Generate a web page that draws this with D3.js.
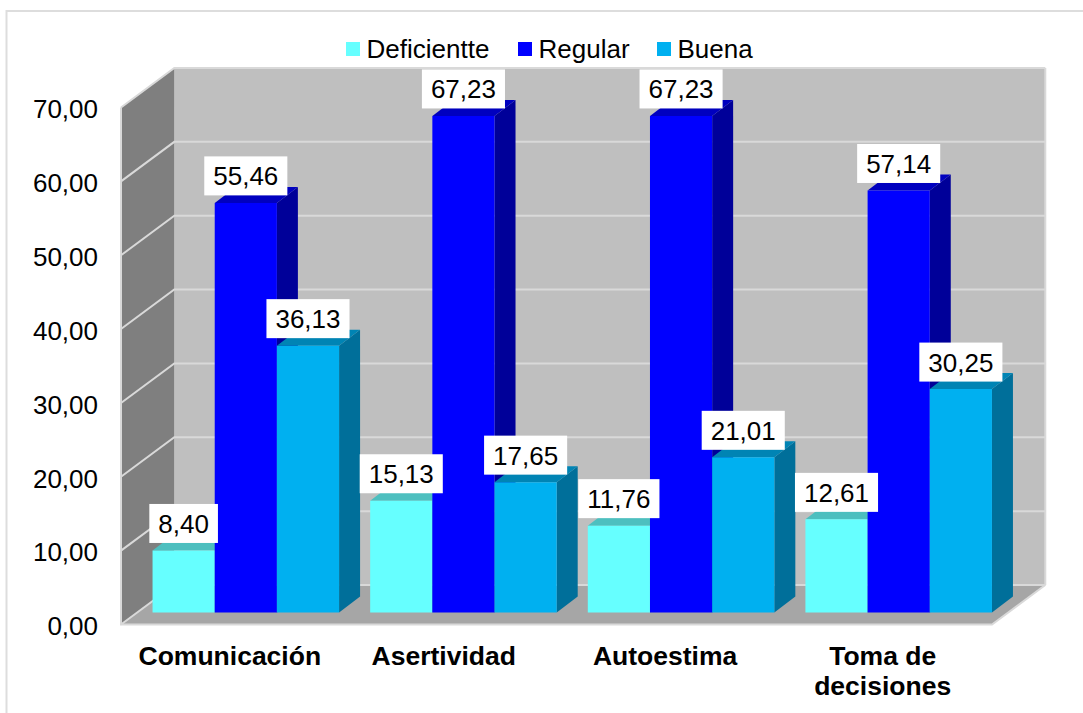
<!DOCTYPE html>
<html><head><meta charset="utf-8">
<script src="https://cdn.jsdelivr.net/npm/d3@7"></script>
<style>html,body{margin:0;padding:0;background:#fff;overflow:hidden}svg{display:block}text{font-family:"Liberation Sans",Arial,sans-serif;fill:#000;white-space:pre}</style>
</head><body><svg id="c" width="1083" height="713"></svg>
<script>
const categories = [["Comunicación"],["Asertividad "],["Autoestima"],["Toma de","decisiones"]];
const seriesNames = ["Deficientte","Regular","Buena"];
const deficiente = [8.40,15.13,11.76,12.61];
const regular = [55.46,67.23,67.23,57.14];
const buena = [36.13,17.65,21.01,30.25];
const seriesValues = [deficiente,regular,buena];
const tickValues = [0,10,20,30,40,50,60,70];
const frontColors = ["#66FFFF","#0000FF","#00B0F0"];
const sideColors = ["#33AAAA","#000099","#006F9A"];
const topColors = ["#4DBFBF","#0000BF","#0084B4"];

const fmt = v => v.toFixed(2).replace(".",",");
const svg = d3.select("#c");
svg.append("rect").attr("x",6.5).attr("y",11).attr("width",1100).attr("height",720)
  .attr("fill","#fff").attr("stroke","#DDDDDD").attr("stroke-width",2);

const y = d3.scaleLinear().domain([0,70]).range([624.5,107.5]);
const depth = {dx:53.3, dy:-39.5};
const inset = {dx:16, dy:-12};
const barDepth = {dx:21, dy:-16};
const x0 = d3.scaleBand().domain(d3.range(4)).range([137,1007.5]).paddingInner(1/7).paddingOuter(1/14);
const x1 = d3.scaleBand().domain(d3.range(3)).range([0,x0.bandwidth()]);
const L = 121, R = 992;
const poly = (pts,fill,g=svg) => g.append("polygon").attr("points",pts.map(p=>p.join(",")).join(" ")).attr("fill",fill);

// walls
const y0=y(0), yT=y(70);
poly([[L+depth.dx,y0+depth.dy],[R+depth.dx,y0+depth.dy],[R+depth.dx,yT+depth.dy],[L+depth.dx,yT+depth.dy]],"#BFBFBF");
poly([[L,y0],[L+depth.dx,y0+depth.dy],[L+depth.dx,yT+depth.dy],[L,yT]],"#7F7F7F");
poly([[L,y0],[R,y0],[R+depth.dx,y0+depth.dy],[L+depth.dx,y0+depth.dy]],"#A6A6A6");

// gridlines and edges
const grid = svg.append("g").attr("fill","none").attr("stroke","#D9D9D9").attr("stroke-width",2);
tickValues.forEach(t=>{
  const pts = [[L,y(t)],[L+depth.dx,y(t)+depth.dy],[R+depth.dx,y(t)+depth.dy]];
  grid.append("polyline").attr("points",pts.map(p=>p.join(",")).join(" "));
});
grid.append("polyline").attr("points",[[R+depth.dx,yT+depth.dy],[R+depth.dx,y0+depth.dy]].map(p=>p.join(",")).join(" "));
grid.append("polyline").attr("points",[[L,yT],[L,y0],[R,y0],[R+depth.dx,y0+depth.dy]].map(p=>p.join(",")).join(" "));

// y axis
const axisG = svg.append("g").attr("transform",`translate(${L},2)`)
  .call(d3.axisLeft(y).tickValues(tickValues).tickSize(0).tickPadding(23).tickFormat(fmt));
axisG.select(".domain").remove();
axisG.selectAll("text").style("font-size","26px").style("font-family",'"Liberation Sans",Arial,sans-serif').attr("fill","#000");

// bars
const barH = v => y(0)-y(v);
categories.forEach((c,i)=>{
  const g = svg.append("g");
  seriesValues.forEach((vals,s)=>{
    const xa = x0(i)+x1(s), xb = xa+x1.bandwidth();
    const base = y0+inset.dy, top = base-barH(vals[i]);
    poly([[xb,base],[xb+barDepth.dx,base+barDepth.dy],[xb+barDepth.dx,top+barDepth.dy],[xb,top]],sideColors[s],g);
    poly([[xa,top],[xb,top],[xb+barDepth.dx,top+barDepth.dy],[xa+barDepth.dx,top+barDepth.dy]],topColors[s],g);
    poly([[xa,base],[xb,base],[xb,top],[xa,top]],frontColors[s],g);
  });
});

// data labels
categories.forEach((c,i)=>{
  seriesValues.forEach((vals,s)=>{
    const cx = x0(i)+x1(s)+x1.bandwidth()/2;
    const bottom = y0+inset.dy-barH(vals[i])-7.5;
    const t = svg.append("text").attr("x",cx).attr("y",bottom-10).attr("text-anchor","middle")
      .style("font-size","26px").text(fmt(vals[i]));
    const w = t.node().getComputedTextLength()+18;
    svg.insert("rect",()=>t.node()).attr("x",cx-w/2).attr("y",bottom-39).attr("width",w).attr("height",39).attr("fill","#fff");
  });
});

// category labels
categories.forEach((c,i)=>{
  const cx = x0(i)+x0.bandwidth()/2-inset.dx;
  const t = svg.append("text").attr("text-anchor","middle").style("font-size","26.5px").style("font-weight","bold");
  c.forEach((line,k)=>t.append("tspan").attr("x",cx).attr("y",665+k*30).text(line));
});

// legend
const legendX = [346,518,657];
seriesNames.forEach((n,s)=>{
  svg.append("rect").attr("x",legendX[s]).attr("y",42).attr("width",14).attr("height",14).attr("fill",frontColors[s]);
  svg.append("text").attr("x",legendX[s]+20.5).attr("y",58).style("font-size","26px").text(n);
});
</script></body></html>
